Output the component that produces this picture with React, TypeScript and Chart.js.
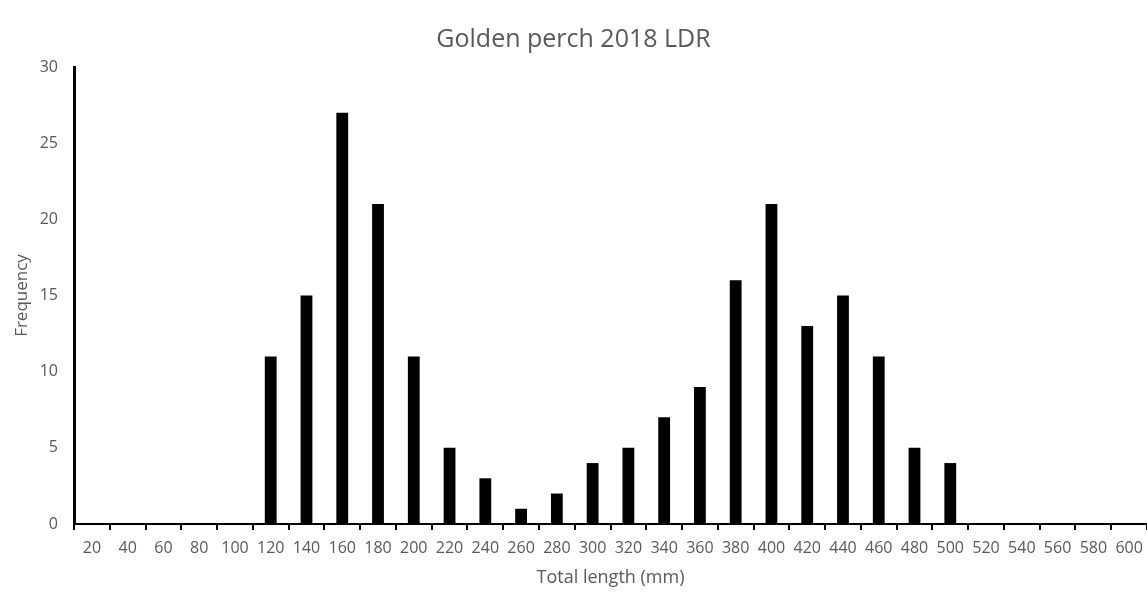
import React, { useEffect, useRef } from "react";
import { Chart, registerables } from "chart.js";

Chart.register(...registerables);

const categories: string[] = [
  "20", "40", "60", "80", "100", "120", "140", "160", "180", "200",
  "220", "240", "260", "280", "300", "320", "340", "360", "380", "400",
  "420", "440", "460", "480", "500", "520", "540", "560", "580", "600",
];

const frequency: number[] = [
  0, 0, 0, 0, 0, 11, 15, 27, 21, 11,
  5, 3, 1, 2, 4, 5, 7, 9, 16, 21,
  13, 15, 11, 5, 4, 0, 0, 0, 0, 0,
];

const yTicks: number[] = [0, 5, 10, 15, 20, 25, 30];

const titleText = "Golden perch 2018 LDR";
const xTitle = "Total length (mm)";
const yTitle = "Frequency";

export default function App() {
  const ref = useRef<HTMLCanvasElement | null>(null);

  useEffect(() => {
    document.body.style.margin = "0";
    const ctx = ref.current;
    if (!ctx) return;
    const gray = "#595959";
    const font = "'Open Sans', 'Liberation Sans', sans-serif";
    const chart = new Chart(ctx, {
      type: "bar",
      data: {
        labels: categories,
        datasets: [
          {
            label: yTitle,
            data: frequency,
            backgroundColor: "#000000",
            borderWidth: 0,
            categoryPercentage: 1,
            barPercentage: 0.33,
          },
        ],
      },
      options: {
        animation: false,
        responsive: false,
        maintainAspectRatio: false,
        layout: { padding: { top: 25, right: 0, left: 0, bottom: 4 } },
        plugins: {
          legend: { display: false },
          tooltip: { enabled: false },
          title: {
            display: true,
            text: titleText,
            color: gray,
            font: { family: font, size: 25, weight: "normal" },
            padding: { top: 0, bottom: 12 },
          },
        },
        scales: {
          x: {
            afterFit: (axis: any) => {
              axis.paddingRight = 0;
              axis.paddingLeft = 0;
            },
            grid: {
              display: true,
              drawOnChartArea: false,
              drawTicks: true,
              tickLength: 6,
              color: "#000000",
              lineWidth: 2,
              offset: true,
            },
            border: { display: true, color: "#000000", width: 2 },
            ticks: {
              color: gray,
              font: { family: font, size: 16, lineHeight: 0.9 },
              padding: 11,
              maxRotation: 0,
              autoSkip: false,
            },
            title: {
              display: true,
              text: xTitle,
              color: gray,
              font: { family: font, size: 18 },
              padding: { top: 1, bottom: 0 },
            },
          },
          y: {
            min: 0,
            max: 30,
            afterBuildTicks: (axis: any) => {
              axis.ticks = yTicks.map((v) => ({ value: v }));
            },
            afterFit: (axis: any) => {
              axis.width = 74;
            },
            grid: { display: false, drawTicks: false },
            border: { display: true, color: "#000000", width: 3 },
            ticks: {
              color: gray,
              font: { family: font, size: 16 },
              padding: 16,
            },
            title: {
              display: true,
              text: yTitle,
              color: gray,
              font: { family: font, size: 17 },
              padding: { top: 12, bottom: 0 },
            },
          },
        },
      },
    });
    return () => chart.destroy();
  }, []);

  return (
    <div style={{ width: 1147, height: 593, background: "#fff" }}>
      <canvas ref={ref} width={1147} height={593} style={{ display: "block" }} />
    </div>
  );
}
